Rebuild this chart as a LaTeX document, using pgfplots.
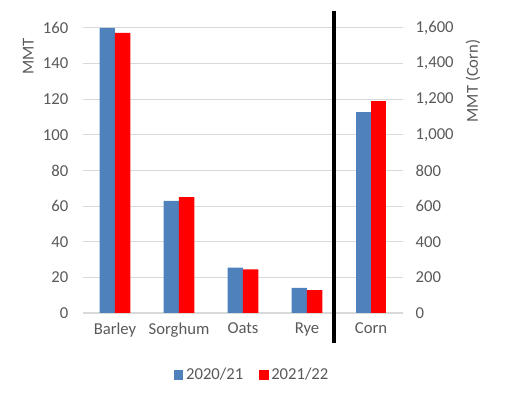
\documentclass[border=0pt]{standalone}
\usepackage{fontspec}
\setmainfont{Carlito}
\usepackage{pgfplots}
\pgfplotsset{compat=1.18}
\definecolor{txt}{HTML}{595959}
\definecolor{bblue}{HTML}{4F81BD}
\definecolor{grd}{HTML}{D9D9D9}
\pgfplotsset{
  mybase/.style={
    scale only axis, width=240pt, height=213.75pt,
    at={(0,0)}, anchor=south west,
    xmin=-0.5, xmax=4.5,
    major tick length=0pt,
    tick label style={font=\fontsize{12.5}{15}\selectfont, text=txt},
    /pgf/number format/assume math mode=true,
    /pgf/number format/1000 sep={,},
  }
}
\begin{document}
\begin{tikzpicture}
\begin{axis}[mybase,
  ymin=0, ymax=160, ytick={0,20,...,160},
  axis x line=bottom, axis y line=left,
  x axis line style={grd, -},
  y axis line style={draw=none},
  ymajorgrids, grid style={grd, line width=0.75pt},
  xtick={0,1,2,3,4},
  xticklabels={Barley,Sorghum,Oats,Rye,Corn},
  xticklabel style={yshift=-4pt},
  yticklabel style={xshift=-7.5pt},
  ylabel={MMT},
  every axis y label/.style={at={(rel axis cs:0,0.9)}, xshift=-41pt, rotate=90, anchor=center,
    font=\fontsize{12.5}{15}\selectfont, text=txt},
  legend columns=2,
  legend style={at={(0.53,-0.2175)}, anchor=center, draw=none, fill=none,
    font=\fontsize{12.5}{15}\selectfont, text=txt,
    /tikz/every even column/.append style={column sep=10pt}},
  legend image code/.code={\fill[#1] (0pt,-3.5pt) rectangle (7pt,3.5pt);},
]
\addplot[ybar, bar width=0.242, bar shift=-0.121, fill=bblue, draw=none]
  coordinates {(0,160) (1,63) (2,25.5) (3,14.1)};
\addlegendentry{2020/21}
\addplot[ybar, bar width=0.242, bar shift=0.121, fill=red, draw=none]
  coordinates {(0,157.2) (1,65) (2,24.5) (3,12.9)};
\addlegendentry{2021/22}
\end{axis}
\begin{axis}[mybase,
  ymin=0, ymax=1600, ytick={0,200,...,1600},
  axis y line=right, axis x line=none,
  y axis line style={draw=none},
  yticklabel style={xshift=6pt},
  ylabel={MMT (Corn)},
  every axis y label/.style={at={(rel axis cs:1,0.814)}, xshift=52.5pt, rotate=90, anchor=center,
    font=\fontsize{12.5}{15}\selectfont, text=txt},
]
\addplot[ybar, bar width=0.242, bar shift=-0.121, fill=bblue, draw=none]
  coordinates {(4,1128)};
\addplot[ybar, bar width=0.242, bar shift=0.121, fill=red, draw=none]
  coordinates {(4,1189)};
\end{axis}
\draw[black, line width=3pt] (188.25pt,226.5pt) -- (188.25pt,-22.5pt);
\useasboundingbox (-62.25pt,-64.5pt) rectangle (318.75pt,234.75pt);
\end{tikzpicture}
\end{document}
